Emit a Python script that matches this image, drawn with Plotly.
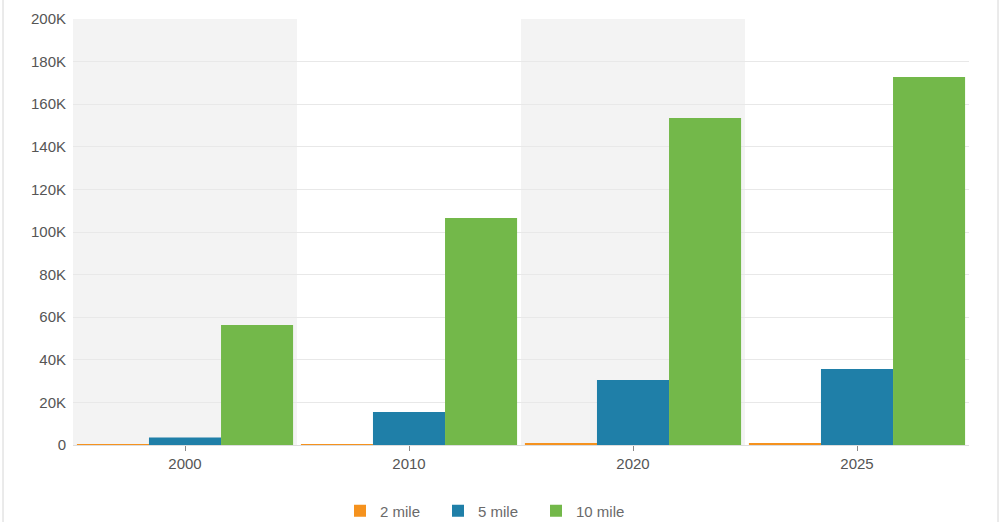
import plotly.graph_objects as go

years = ["2000", "2010", "2020", "2025"]
mile2 = [200, 300, 800, 900]
mile5 = [3500, 15500, 30500, 35700]
mile10 = [56300, 106600, 153500, 172800]
y_ticks = [0, 20000, 40000, 60000, 80000, 100000, 120000, 140000, 160000, 180000, 200000]
y_labels = ["0", "20K", "40K", "60K", "80K", "100K", "120K", "140K", "160K", "180K", "200K"]

fig = go.Figure()
fig.add_bar(x=years, y=mile2, name="2 mile", marker_color="#F5921E", marker_line_width=0)
fig.add_bar(x=years, y=mile5, name="5 mile", marker_color="#1F7FA8", marker_line_width=0)
fig.add_bar(x=years, y=mile10, name="10 mile", marker_color="#73B84A", marker_line_width=0)

W, H = 1003, 522
L, R, T, B = 73, 34, 19, 77
pw, ph = W - L - R, H - T - B

shapes = []
for i in range(0, len(years), 2):
    shapes.append(dict(type="rect", xref="x", yref="y", x0=i - 0.5, x1=i + 0.5,
                       y0=0, y1=203000, fillcolor="#f3f3f3", line_width=0, layer="below"))
# outer frame (left and right edges)
for px in (3, 998):
    shapes.append(dict(type="line", xref="paper", yref="paper",
                       x0=(px - L) / pw, x1=(px - L) / pw,
                       y0=(T + ph - H - 5) / ph, y1=(T + ph + 5) / ph,
                       line=dict(color="#d6d6d6", width=1), layer="below"))

fig.update_layout(
    width=W, height=H,
    margin=dict(l=L, r=R, t=T, b=B, autoexpand=False),
    paper_bgcolor="white", plot_bgcolor="white",
    barmode="group", bargap=0.035, bargroupgap=0,
    font=dict(family="Liberation Sans, Arial, sans-serif", size=15, color="#555555"),
    shapes=shapes,
    showlegend=True,
    legend=dict(orientation="h", xref="container", yref="container",
                x=487 / W, xanchor="center", y=11 / H, yanchor="middle",
                font=dict(size=15, color="#6a6a6a"), itemwidth=30, entrywidth=53,
                traceorder="normal"),
    xaxis=dict(type="category", showgrid=False, ticks="outside", ticklen=5, tickcolor="#888888",
               showline=True, linecolor="#dddddd", tickfont=dict(size=15, color="#555555")),
    yaxis=dict(range=[0, 200000], tickvals=y_ticks, ticktext=y_labels, showgrid=True,
               gridcolor="#e8e8e8", zeroline=False, ticks="", ticklabelstandoff=6,
               tickfont=dict(size=15, color="#555555")),
)

fig.write_html("out.html", config={"displayModeBar": False},
               post_script="document.body.style.margin='0';")
